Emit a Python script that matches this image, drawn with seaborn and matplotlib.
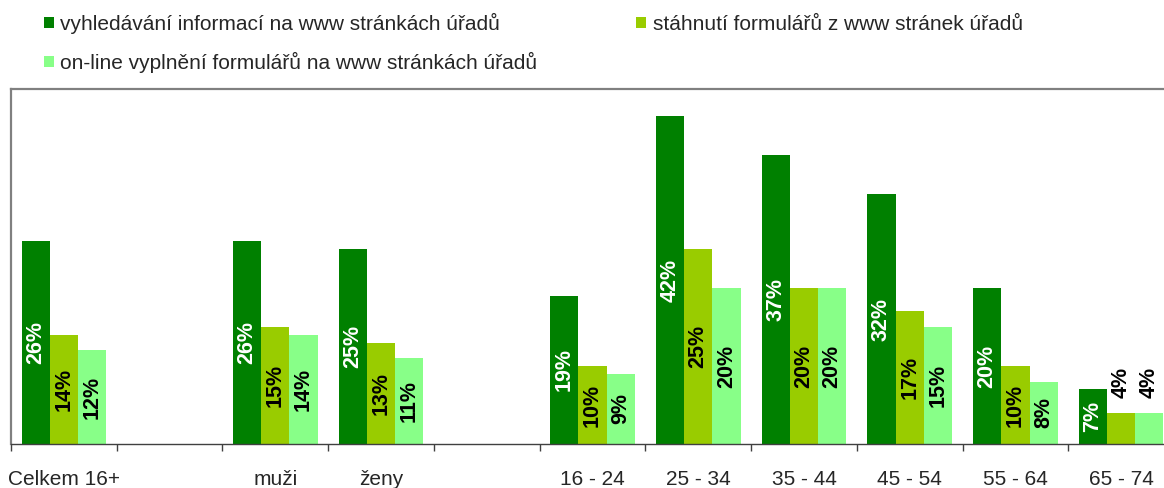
import matplotlib
matplotlib.use("Agg")
import matplotlib.pyplot as plt
from matplotlib.patches import Patch
import pandas as pd
import seaborn as sns

# kategorie (prázdné položky = mezery mezi skupinami)
kategorie = ["Celkem 16+", " ", "muži", "ženy", "  ",
             "16 - 24", "25 - 34", "35 - 44", "45 - 54", "55 - 64", "65 - 74"]
skupiny = ["Celkem 16+", "muži", "ženy", "16 - 24", "25 - 34",
           "35 - 44", "45 - 54", "55 - 64", "65 - 74"]

serie = ["vyhledávání informací na www stránkách úřadů",
         "stáhnutí formulářů z www stránek úřadů",
         "on-line vyplnění formulářů na www stránkách úřadů"]

vyhledavani = [26, 26, 25, 19, 42, 37, 32, 20, 7]
stahnuti = [14, 15, 13, 10, 25, 20, 17, 10, 4]
vyplneni = [12, 14, 11, 9, 20, 20, 15, 8, 4]

barvy = ["#008000", "#99CC00", "#88FF88"]

rows = []
for nazev, hodnoty in zip(serie, [vyhledavani, stahnuti, vyplneni]):
    for kat, v in zip(skupiny, hodnoty):
        rows.append({"kat": kat, "serie": nazev, "hodnota": v})
df = pd.DataFrame(rows)

sns.set_style("white")
plt.rcParams["font.family"] = ["Liberation Sans", "DejaVu Sans"]

W, H = 1164, 488
fig = plt.figure(figsize=(W / 100, H / 100), dpi=100)
# osa přesahuje pravý okraj obrázku (poslední sloupec je useknutý)
ax = fig.add_axes([11 / W, (H - 444) / H, 1163 / W, (444 - 89) / H])

sns.barplot(data=df, x="kat", y="hodnota", hue="serie", order=kategorie,
            hue_order=serie, palette=barvy, saturation=1, width=0.8, gap=0,
            linewidth=0, ax=ax, legend=False)

ax.set_ylim(0, 45.5)
ax.set_xlim(-0.5, len(kategorie) - 0.5)
ax.set_xlabel("")
ax.set_ylabel("")
ax.set_yticks([])

# popisky kategorií + značky mezi skupinami
ax.set_xticks(range(len(kategorie)))
ax.set_xticklabels([k.strip() for k in kategorie], fontsize=15)
ax.set_xticks([i - 0.5 for i in range(len(kategorie) + 1)], minor=True)
ax.tick_params(axis="x", which="major", length=0, pad=19)
ax.tick_params(axis="x", which="minor", length=5, width=1, color="#404040",
               direction="out", bottom=True)

for s in ["left", "top", "right"]:
    ax.spines[s].set_color("#808080")
    ax.spines[s].set_linewidth(1.6)
ax.spines["bottom"].set_color("#404040")
ax.spines["bottom"].set_linewidth(1)

# popisky hodnot
for i, cont in enumerate(ax.containers):
    barva_textu = "white" if i == 0 else "black"
    for bar in cont:
        h = bar.get_height()
        if h != h or h == 0:
            continue
        x = bar.get_x() + bar.get_width() / 2
        if h >= 5:
            ax.text(x, h / 2, f"{h:.0f}%", rotation=90, ha="center", va="center",
                    fontsize=15.5, fontweight="bold", color=barva_textu)
        else:
            ax.annotate(f"{h:.0f}%", (x, h), xytext=(0, 11), textcoords="offset points",
                        rotation=90, ha="center", va="bottom", fontsize=15.5,
                        fontweight="bold", color="black", annotation_clip=False)

# legenda: řádek 1 = série 1 a 2, řádek 2 = série 3
handles = [Patch(facecolor=c, edgecolor="none") for c in barvy]
poradi = [0, 2, 1]
fig.legend([handles[i] for i in poradi], [serie[i] for i in poradi],
           loc="upper left", bbox_to_anchor=(44 / W, 1 - 13 / H), ncol=2,
           frameon=False, fontsize=15, handlelength=0.48, handleheight=0.48,
           handletextpad=0.3, columnspacing=4.75, labelspacing=0.85,
           borderpad=0, borderaxespad=0)

fig.savefig("out.png", dpi=100)
